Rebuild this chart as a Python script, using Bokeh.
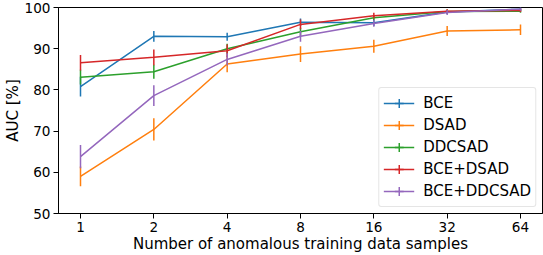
import math
from bokeh.plotting import figure
from bokeh.models import Legend, LegendItem, FixedTicker, BasicTickFormatter, ColumnDataSource, Range1d
from bokeh.embed import file_html
from bokeh.resources import INLINE

samples = [1, 2, 4, 8, 16, 32, 64]
names = ["BCE", "DSAD", "DDCSAD", "BCE+DSAD", "BCE+DDCSAD"]
colors = ["#1f77b4", "#ff7f0e", "#2ca02c", "#d62728", "#9467bd"]

bce = [80.8, 93.0, 92.9, 96.4, 96.3, 98.9, 99.6]
bce_err = [2.4, 1.3, 1.0, 0.9, 0.8, 0.5, 0.4]
dsad = [59.0, 70.4, 86.3, 88.7, 90.6, 94.3, 94.6]
dsad_err = [2.4, 2.7, 2.0, 1.9, 1.6, 1.2, 1.3]
ddcsad = [83.1, 84.4, 90.0, 94.1, 97.5, 99.0, 99.1]
ddcsad_err = [1.8, 1.7, 1.2, 1.0, 0.6, 0.5, 0.4]
bce_dsad = [86.6, 87.9, 89.5, 95.9, 98.0, 99.1, 99.3]
bce_dsad_err = [1.9, 1.9, 1.5, 1.2, 0.7, 0.5, 0.4]
bce_ddcsad = [63.8, 78.6, 87.4, 93.0, 96.1, 98.8, 99.6]
bce_ddcsad_err = [2.8, 2.5, 1.5, 1.3, 0.8, 0.6, 0.4]

series = [bce, dsad, ddcsad, bce_dsad, bce_ddcsad]
errors = [bce_err, dsad_err, ddcsad_err, bce_dsad_err, bce_ddcsad_err]

FONT = "DejaVu Sans"
FS = "15px"
TFS = "13.6px"

p = figure(width=543, height=255, output_backend="svg", toolbar_location=None,
           x_axis_type="log",
           x_range=Range1d(2 ** -0.3, 2 ** 6.3), y_range=Range1d(50, 100),
           min_border_left=0, min_border_right=1, min_border_top=7, min_border_bottom=0)

p.xgrid.visible = False
p.ygrid.visible = False
p.outline_line_color = "black"
p.outline_line_width = 1
p.outline_line_alpha = 1
p.background_fill_color = "white"
p.border_fill_color = "white"

p.xaxis.ticker = FixedTicker(ticks=samples)
p.xaxis.formatter = BasicTickFormatter()
p.yaxis.ticker = FixedTicker(ticks=[50, 60, 70, 80, 90, 100])
for ax in (p.xaxis[0], p.yaxis[0]):
    ax.major_label_text_font = FONT
    ax.major_label_text_font_size = TFS
    ax.major_label_text_color = "black"
    ax.axis_label_text_font = FONT
    ax.axis_label_text_font_size = FS
    ax.axis_label_text_font_style = "normal"
    ax.axis_label_text_color = "black"
    ax.major_tick_out = 5
    ax.major_tick_in = 0
    ax.minor_tick_out = 0
    ax.minor_tick_in = 0
    ax.axis_line_color = "black"
    ax.major_tick_line_color = "black"
    ax.major_label_standoff = 3
    ax.axis_label_standoff = 0
p.xaxis.axis_label = "Number of anomalous training data samples"
p.yaxis.axis_label = "AUC [%]"

items = []
for name, col, vals, errs in zip(names, colors, series, errors):
    src = ColumnDataSource(dict(x=samples, y=vals,
                                lo=[v - e for v, e in zip(vals, errs)],
                                hi=[v + e for v, e in zip(vals, errs)]))
    ln = p.line("x", "y", source=src, line_color=col, line_width=1.5)
    sg = p.segment(x0="x", y0="lo", x1="x", y1="hi", source=src, line_color=col, line_width=1.5)
    mk = p.scatter("x", "y", source=src, marker="cross", size=0, line_color=col, line_width=1.5)
    items.append(LegendItem(label=name, renderers=[ln, mk]))

legend = Legend(items=items, location="bottom_right")
legend.label_text_font = FONT
legend.label_text_font_size = FS
legend.label_text_color = "black"
legend.glyph_height = 22
legend.glyph_width = 31
legend.label_height = 22
legend.spacing = 0
legend.padding = 4
legend.margin = 6
legend.label_standoff = 9
legend.border_line_color = "#cccccc"
legend.border_line_width = 1
legend.background_fill_alpha = 0.8
if "border_radius" in legend.properties():
    legend.border_radius = 3
p.add_layout(legend)

open("out.html", "w").write(file_html(p, INLINE))
